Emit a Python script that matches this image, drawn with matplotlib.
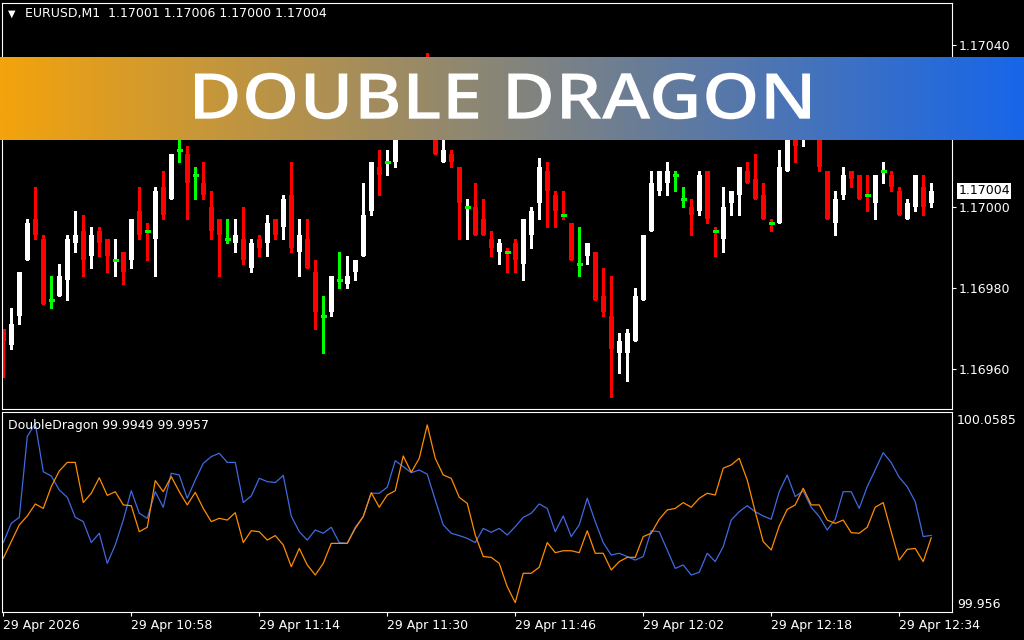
import numpy as np
import matplotlib
matplotlib.use("Agg")
import matplotlib.pyplot as plt
from matplotlib.colors import LinearSegmentedColormap
from matplotlib.textpath import TextPath
from matplotlib.patches import PathPatch
from matplotlib.font_manager import FontProperties
from matplotlib.transforms import Affine2D

# EURUSD M1 candles, 10:42 .. 12:38
open_ = [1.16970, 1.16966, 1.16973, 1.16987, 1.16997, 1.16992, 1.16977, 1.16978, 1.16982, 1.16991,
         1.16994, 1.16988, 1.16994, 1.16992, 1.16987, 1.16989, 1.16987, 1.16999, 1.16994, 1.16992,
         1.17005, 1.17002, 1.17014, 1.17013, 1.17008, 1.17006, 1.17000, 1.16997, 1.16992, 1.16991,
         1.16992, 1.16985, 1.16992, 1.16991, 1.16997, 1.16995, 1.17003, 1.16989, 1.16992, 1.16984,
         1.16973, 1.16974, 1.16982, 1.16981, 1.16984, 1.16988, 1.16999, 1.17010, 1.17011, 1.17011,
         1.17024, 1.17028, 1.17031, 1.17029, 1.17027, 1.17011, 1.17013, 1.17010, 1.17000, 1.17000,
         1.16997, 1.16992, 1.16989, 1.16989, 1.16991, 1.16986, 1.16993, 1.17001, 1.17009, 1.17003,
         1.16998, 1.16996, 1.16986, 1.16988, 1.16989, 1.16978, 1.16973, 1.16964, 1.16964, 1.16967,
         1.16977, 1.16994, 1.17004, 1.17006, 1.17008, 1.17002, 1.17000, 1.16999, 1.17009, 1.16994,
         1.16992, 1.17001, 1.17003, 1.17009, 1.17007, 1.17003, 1.16996, 1.16996, 1.17009, 1.17020,
         1.17017, 1.17021, 1.17023, 1.17009, 1.16996, 1.17003, 1.17009, 1.17008, 1.17003, 1.17001,
         1.17009, 1.17008, 1.17004, 1.16997, 1.17000, 1.17005, 1.17001]
high = [1.16970, 1.16975, 1.16984, 1.16997, 1.17005, 1.16993, 1.16983, 1.16986, 1.16993, 1.16999,
        1.16998, 1.16995, 1.16995, 1.16992, 1.16992, 1.16989, 1.16997, 1.17005, 1.16996, 1.17005,
        1.17009, 1.17013, 1.17018, 1.17015, 1.17010, 1.17011, 1.17004, 1.16997, 1.16997, 1.16997,
        1.17000, 1.16992, 1.16993, 1.16998, 1.16997, 1.17003, 1.17011, 1.16997, 1.16997, 1.16987,
        1.16978, 1.16983, 1.16989, 1.16988, 1.16987, 1.17006, 1.17011, 1.17014, 1.17014, 1.17026,
        1.17030, 1.17033, 1.17034, 1.17038, 1.17029, 1.17020, 1.17014, 1.17010, 1.17002, 1.17006,
        1.17002, 1.16994, 1.16992, 1.16990, 1.16992, 1.16997, 1.17000, 1.17012, 1.17011, 1.17004,
        1.17004, 1.16996, 1.16995, 1.16991, 1.16989, 1.16985, 1.16983, 1.16969, 1.16970, 1.16980,
        1.16993, 1.17009, 1.17009, 1.17011, 1.17009, 1.17005, 1.17002, 1.17009, 1.17009, 1.16995,
        1.17005, 1.17004, 1.17010, 1.17011, 1.17013, 1.17006, 1.16997, 1.17014, 1.17022, 1.17022,
        1.17024, 1.17025, 1.17025, 1.17009, 1.17004, 1.17010, 1.17009, 1.17008, 1.17008, 1.17008,
        1.17011, 1.17009, 1.17005, 1.17002, 1.17008, 1.17008, 1.17006]
low = [1.16958, 1.16965, 1.16971, 1.16987, 1.16992, 1.16976, 1.16975, 1.16978, 1.16977, 1.16989,
       1.16983, 1.16985, 1.16988, 1.16984, 1.16983, 1.16981, 1.16985, 1.16992, 1.16987, 1.16983,
       1.16997, 1.17002, 1.17011, 1.16997, 1.17002, 1.17002, 1.16992, 1.16983, 1.16991, 1.16989,
       1.16986, 1.16984, 1.16988, 1.16988, 1.16992, 1.16992, 1.16989, 1.16983, 1.16985, 1.16970,
       1.16964, 1.16973, 1.16980, 1.16980, 1.16982, 1.16988, 1.16998, 1.17003, 1.17008, 1.17010,
       1.17022, 1.17026, 1.17027, 1.17025, 1.17013, 1.17011, 1.17010, 1.16992, 1.16992, 1.16993,
       1.16993, 1.16988, 1.16986, 1.16984, 1.16984, 1.16982, 1.16990, 1.16997, 1.16995, 1.16995,
       1.16997, 1.16987, 1.16983, 1.16986, 1.16977, 1.16973, 1.16953, 1.16959, 1.16957, 1.16967,
       1.16977, 1.16994, 1.17003, 1.17003, 1.17004, 1.17000, 1.16993, 1.16998, 1.16996, 1.16988,
       1.16989, 1.16998, 1.16998, 1.17006, 1.17002, 1.16997, 1.16994, 1.16996, 1.17009, 1.17011,
       1.17015, 1.17018, 1.17009, 1.16997, 1.16993, 1.17002, 1.17005, 1.17002, 1.16999, 1.16997,
       1.17006, 1.17004, 1.16998, 1.16997, 1.16999, 1.16998, 1.17000]
close_ = [1.16967, 1.16971, 1.16984, 1.16996, 1.16993, 1.16976, 1.16977, 1.16983, 1.16992, 1.16993,
          1.16987, 1.16993, 1.16991, 1.16988, 1.16988, 1.16984, 1.16997, 1.16993, 1.16993, 1.17004,
          1.16998, 1.17013, 1.17014, 1.17006, 1.17008, 1.17003, 1.16994, 1.16993, 1.16992, 1.16993,
          1.16987, 1.16991, 1.16990, 1.16996, 1.16993, 1.17002, 1.16990, 1.16993, 1.16985, 1.16974,
          1.16973, 1.16983, 1.16982, 1.16983, 1.16987, 1.16998, 1.17011, 1.17008, 1.17012, 1.17024,
          1.17028, 1.17031, 1.17029, 1.17027, 1.17013, 1.17014, 1.17011, 1.17001, 1.17001, 1.16993,
          1.16993, 1.16990, 1.16991, 1.16988, 1.16987, 1.16997, 1.16999, 1.17010, 1.17004, 1.16999,
          1.16997, 1.16987, 1.16986, 1.16991, 1.16977, 1.16974, 1.16965, 1.16967, 1.16969, 1.16978,
          1.16993, 1.17006, 1.17009, 1.17009, 1.17008, 1.17002, 1.16998, 1.17008, 1.16997, 1.16993,
          1.17000, 1.17004, 1.17010, 1.17006, 1.17002, 1.16997, 1.16995, 1.17010, 1.17020, 1.17015,
          1.17021, 1.17023, 1.17010, 1.16997, 1.17002, 1.17008, 1.17007, 1.17002, 1.17002, 1.17008,
          1.17010, 1.17005, 1.16998, 1.17001, 1.17008, 1.17000, 1.17004]

# DoubleDragon indicator buffers
dd_blue = [99.9907, 100.0006, 100.0037, 100.0453, 100.0521, 100.0272, 100.0250, 100.0178, 100.0140, 100.0037,
           100.0015, 99.9907, 99.9955, 99.9800, 99.9895, 100.0023, 100.0174, 100.0058, 100.0032, 100.0169,
           100.0089, 100.0264, 100.0255, 100.0135, 100.0229, 100.0315, 100.0350, 100.0367, 100.0320, 100.0320,
           100.0113, 100.0147, 100.0238, 100.0221, 100.0216, 100.0253, 100.0044, 99.9963, 99.9920, 99.9972,
           99.9955, 99.9986, 99.9907, 99.9903, 99.9986, 100.0041, 100.0161, 100.0161, 100.0192, 100.0329,
           100.0298, 100.0267, 100.0281, 100.0259, 100.0126, 99.9998, 99.9955, 99.9943, 99.9929, 99.9907,
           99.9980, 99.9960, 99.9980, 99.9946, 99.9989, 100.0037, 100.0058, 100.0106, 100.0083, 99.9963,
           100.0044, 99.9938, 99.9998, 100.0135, 100.0015, 99.9907, 99.9843, 99.9852, 99.9835, 99.9817,
           99.9835, 99.9968, 99.9963, 99.9869, 99.9774, 99.9792, 99.9740, 99.9754, 99.9852, 99.9809,
           99.9886, 100.0023, 100.0066, 100.0097, 100.0066, 100.0044, 100.0027, 100.0169, 100.0255, 100.0144,
           100.0173, 100.0089, 100.0041, 99.9972, 100.0027, 100.0169, 100.0169, 100.0083, 100.0195, 100.0281,
           100.0370, 100.0319, 100.0243, 100.0195, 100.0118, 99.9938, 99.9944]
dd_orange = [99.9826, 99.9912, 99.9998, 100.0044, 100.0106, 100.0083, 100.0195, 100.0276, 100.0320, 100.0320,
             100.0113, 100.0161, 100.0241, 100.0150, 100.0169, 100.0101, 100.0097, 99.9963, 99.9986, 100.0226,
             100.0169, 100.0247, 100.0169, 100.0101, 100.0166, 100.0083, 100.0015, 100.0032, 100.0023, 100.0061,
             99.9907, 99.9968, 99.9963, 99.9920, 99.9943, 99.9895, 99.9783, 99.9877, 99.9792, 99.9740,
             99.9800, 99.9903, 99.9903, 99.9903, 99.9980, 100.0041, 100.0164, 100.0089, 100.0152, 100.0174,
             100.0353, 100.0269, 100.0341, 100.0513, 100.0341, 100.0255, 100.0238, 100.0140, 100.0109, 99.9946,
             99.9835, 99.9831, 99.9800, 99.9680, 99.9598, 99.9749, 99.9749, 99.9780, 99.9907, 99.9855,
             99.9865, 99.9865, 99.9855, 99.9968, 99.9852, 99.9852, 99.9766, 99.9809, 99.9831, 99.9831,
             99.9938, 99.9955, 100.0027, 100.0075, 100.0083, 100.0113, 100.0089, 100.0135, 100.0161, 100.0152,
             100.0290, 100.0307, 100.0341, 100.0229, 100.0066, 99.9912, 99.9869, 99.9992, 100.0078, 100.0101,
             100.0187, 100.0101, 100.0101, 100.0023, 100.0006, 100.0023, 99.9958, 99.9955, 99.9986, 100.0089,
             100.0113, 99.9963, 99.9817, 99.9872, 99.9877, 99.9809, 99.9932]

price_ticks = [1.16960, 1.16980, 1.17000, 1.17020, 1.17040]
time_idx = [0, 16, 32, 48, 64, 80, 96, 112]
time_labels = ["29 Apr 2026", "29 Apr 10:58", "29 Apr 11:14", "29 Apr 11:30",
               "29 Apr 11:46", "29 Apr 12:02", "29 Apr 12:18", "29 Apr 12:34"]
dd_max, dd_min = "100.0585", "99.956"
dd_label = "DoubleDragon 99.9949 99.9957"
title = "DOUBLE DRAGON"

W, H = 1024, 640
FS = 9


def fx(px):
    return px / W


def fy(py):
    return 1 - py / H


fig = plt.figure(figsize=(W / 100, H / 100), dpi=100, facecolor="black")
ax = fig.add_axes([fx(2), fy(408.5), 950 / W, 406 / H], facecolor="black")
ax2 = fig.add_axes([fx(2), fy(612.3), 950 / W, 200.6 / H], facecolor="black")

o = np.array(open_)
h = np.array(high)
l = np.array(low)
c = np.array(close_)
idx = np.arange(len(c))
cols = np.where(c > o, "white", np.where(c < o, "#ff0000", "#00ff00"))
doji = np.isclose(c, o)

ax.vlines(idx, l, h, colors=cols, linewidth=0.8, antialiased=False)
ax.bar(idx[~doji], np.abs(c - o)[~doji], bottom=np.minimum(o, c)[~doji], width=0.62,
       color=cols[~doji], linewidth=0, antialiased=False)
ax.hlines(o[doji], idx[doji] - 0.31, idx[doji] + 0.31, colors="#00ff00", linewidth=0.8,
          antialiased=False)

ax.set_xlim(-0.16, 118.6)
ax.set_ylim(1.1695025, 1.170505)
ax.set_xticks([])
ax.yaxis.tick_right()
ax.set_yticks(price_ticks)
ax.set_yticklabels([f"{p:.5f}" for p in price_ticks])
ax.tick_params(axis="y", colors="white", length=3, width=0.8, labelsize=FS, pad=2)

ax.annotate(f"{c[-1]:.5f}", xy=(1, c[-1]), xycoords=("axes fraction", "data"),
            xytext=(4.5, 0), textcoords="offset points", va="center", ha="left",
            color="black", fontsize=FS, annotation_clip=False,
            bbox=dict(boxstyle="square,pad=0.12", fc="white", ec="none"))

ax2.plot(idx, dd_blue, color="#4169e1", linewidth=0.9)
ax2.plot(idx, dd_orange, color="#ff8c00", linewidth=0.9)
ax2.set_xlim(-0.16, 118.6)
ax2.set_ylim(99.9548, 100.0581)
ax2.set_yticks([])
ax2.set_xticks(time_idx)
ax2.set_xticklabels(time_labels, ha="left")
ax2.tick_params(axis="x", colors="white", length=3, width=0.8, labelsize=FS, pad=2)

for a in (ax, ax2):
    for s in a.spines.values():
        s.set_color("white")
        s.set_linewidth(0.8)

fig.text(fx(957), fy(420), dd_max, color="white", fontsize=FS, va="center")
fig.text(fx(957), fy(604), dd_min, color="white", fontsize=FS, va="center")
fig.text(fx(8), fy(425), dd_label, color="white", fontsize=FS, va="center")
fig.text(fx(8), fy(14), "\u25bc", color="white", fontsize=7, va="center")
fig.text(fx(25), fy(14), f"EURUSD,M1  {o[-1]:.5f} {h[-1]:.5f} {l[-1]:.5f} {c[-1]:.5f}",
         color="white", fontsize=FS, va="center")

# gradient banner over the chart
bax = fig.add_axes([0, fy(140), 1, 83 / H])
bax.set_axis_off()
cmap = LinearSegmentedColormap.from_list("dd", ["#f3a30d", "#1766e9"])
bax.imshow(np.linspace(0, 1, 512)[None, :], cmap=cmap, aspect="auto",
           extent=(0, W, H - 140, H - 57), interpolation="bilinear")
bax.set_xlim(0, W)
bax.set_ylim(H - 140, H - 57)

tp = TextPath((0, 0), title, size=100, prop=FontProperties(family="Open Sans", weight="semibold"))
bb = tp.get_extents()
tr = Affine2D().translate(-bb.x0, -bb.y0).scale(615 / bb.width, 46.5 / bb.height).translate(195, H - 119.3)
bax.add_patch(PathPatch(tr.transform_path(tp), facecolor="white", edgecolor="none"))

fig.savefig("out.png", dpi=100, facecolor="black")
